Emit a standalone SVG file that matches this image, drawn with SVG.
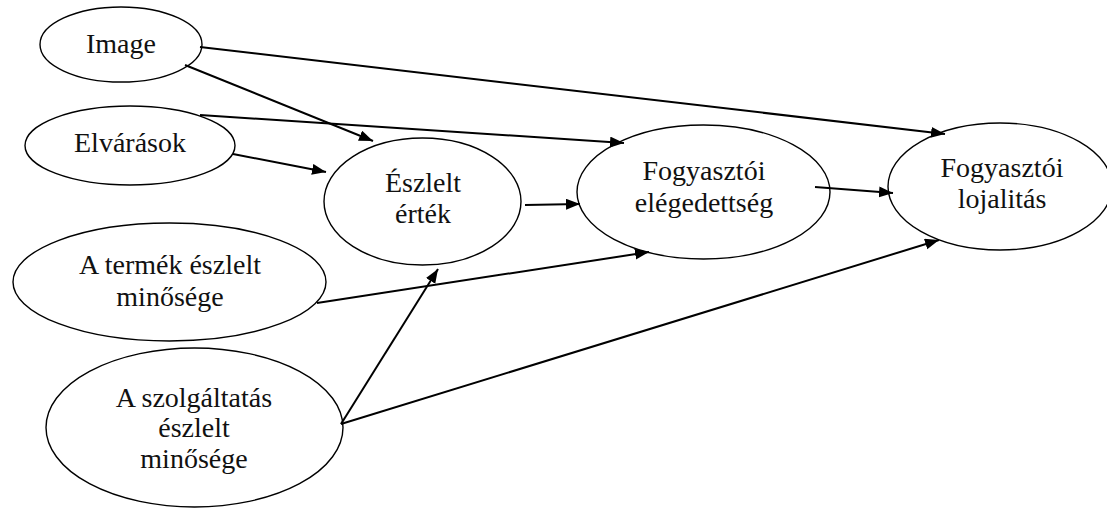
<svg xmlns="http://www.w3.org/2000/svg" width="1107" height="509" viewBox="0 0 1107 509">
<style>
.node ellipse{fill:#fff;stroke:#000;stroke-width:1.4}
.node text{font-family:"Liberation Serif","Times New Roman",serif;font-size:28px;fill:#111;text-anchor:middle}
#connectors line{stroke:#000;stroke-width:2;marker-end:url(#arrow)}
</style>
<defs>
<marker id="arrow" markerUnits="userSpaceOnUse" markerWidth="15" markerHeight="12" refX="14" refY="5.5" orient="auto">
<path d="M0,0 L14,5.5 L0,11 z" fill="#000"/>
</marker>
</defs>
<rect width="1107" height="509" fill="#fff"/>
<g id="n-image" class="node">
<ellipse cx="121" cy="44.5" rx="81" ry="37.5"/>
<text x="121" y="53">Image</text>
</g>
<g id="n-elvarasok" class="node">
<ellipse cx="130" cy="145.5" rx="105" ry="39.5"/>
<text x="130" y="152">Elvárások</text>
</g>
<g id="n-eszlelt-ertek" class="node">
<ellipse cx="422.5" cy="201.5" rx="98.5" ry="63.5"/>
<text x="423" y="192">Észlelt</text>
<text x="423" y="223">érték</text>
</g>
<g id="n-elegedettseg" class="node">
<ellipse cx="703.5" cy="192" rx="126.5" ry="67"/>
<text x="704" y="180">Fogyasztói</text>
<text x="704" y="212">elégedettség</text>
</g>
<g id="n-lojalitas" class="node">
<ellipse cx="1000" cy="186.5" rx="112" ry="63.5"/>
<text x="1002" y="177">Fogyasztói</text>
<text x="1002" y="208">lojalitás</text>
</g>
<g id="n-termek" class="node">
<ellipse cx="169.5" cy="282" rx="156.5" ry="59"/>
<text x="170" y="274">A termék észlelt</text>
<text x="170" y="306">minősége</text>
</g>
<g id="n-szolgaltatas" class="node">
<ellipse cx="194.5" cy="427.5" rx="148.5" ry="79.5"/>
<text x="194" y="407">A szolgáltatás</text>
<text x="194" y="437">észlelt</text>
<text x="194" y="468">minősége</text>
</g>
<g id="connectors">
<line x1="200" y1="47" x2="945" y2="134"/>
<line x1="185" y1="65" x2="373" y2="141"/>
<line x1="200" y1="115" x2="624" y2="143"/>
<line x1="233" y1="154" x2="326" y2="172"/>
<line x1="525" y1="205" x2="580" y2="204"/>
<line x1="815" y1="187" x2="893" y2="193"/>
<line x1="317" y1="303" x2="649" y2="252"/>
<line x1="341" y1="424" x2="438" y2="269"/>
<line x1="341" y1="424" x2="939" y2="240"/>
</g>
</svg>
